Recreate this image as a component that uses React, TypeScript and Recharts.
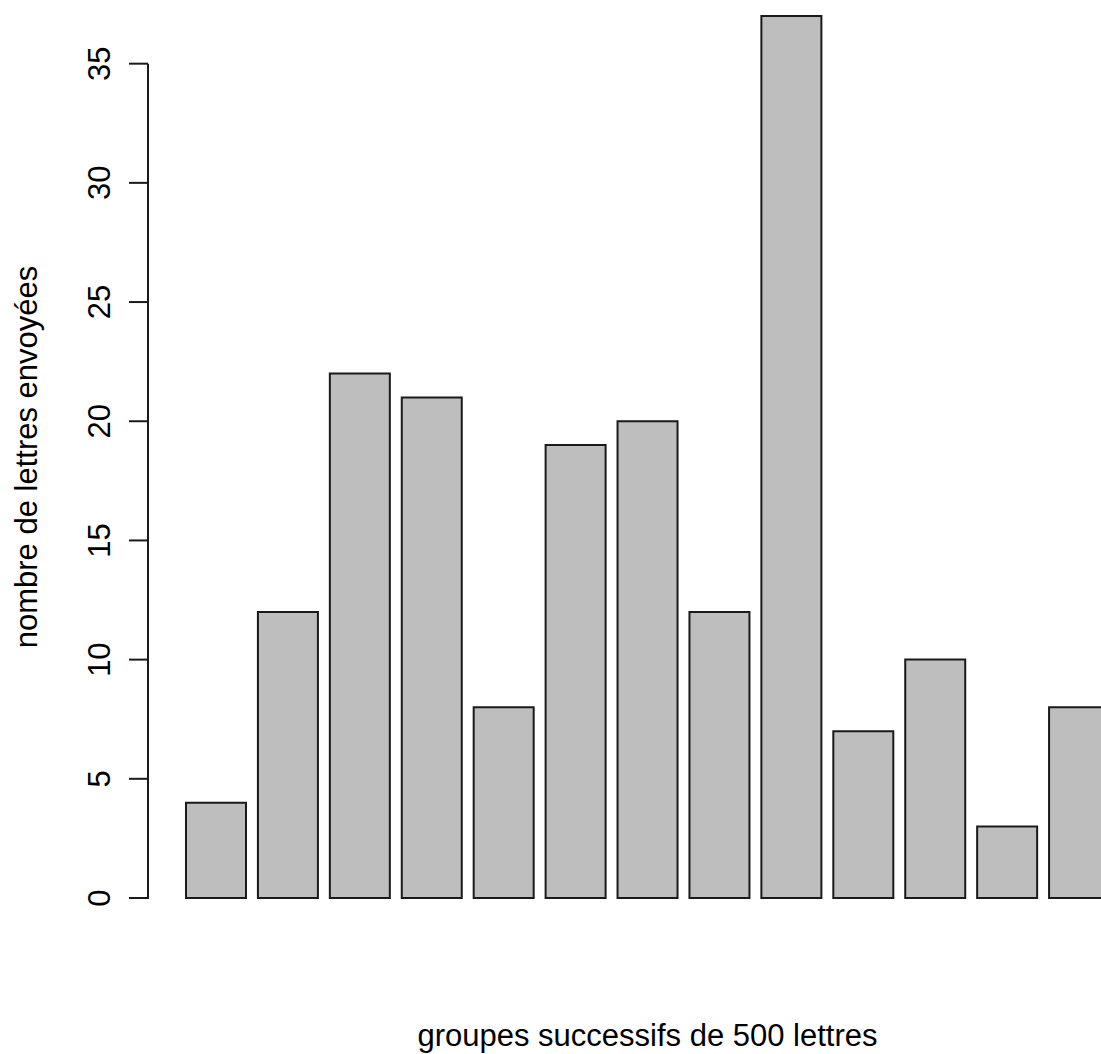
import { Bar, BarChart, XAxis, YAxis } from "recharts"

const groups = ["1", "2", "3", "4", "5", "6", "7", "8", "9", "10", "11", "12", "13"]
const letters = [4, 12, 22, 21, 8, 19, 20, 12, 37, 7, 10, 3, 8]
const yTicks = [0, 5, 10, 15, 20, 25, 30, 35]
const xTitle = "groupes successifs de 500 lettres"
const yTitle = "nombre de lettres envoyées"

const data = groups.map((g, i) => ({ group: g, n: letters[i] }))

// layout, roughly the R device geometry
const W = 1147
const H = 1054
const TOP = 16
const AXIS_W = 148
const BOTTOM = 156
const PLOT_H = H - TOP - BOTTOM
const yMax = Math.max(...letters)
const pxPerUnit = PLOT_H / yMax

const font = "'Liberation Sans', Arial, sans-serif"
const fs = 31
const ink = "#1a1a1a"

function YTick({ x, y, payload }: any) {
  const v = payload.value
  const next = yTicks[yTicks.indexOf(v) + 1]
  const lx = x - 38
  return (
    <g>
      <line x1={x - 19} y1={y} x2={x} y2={y} stroke={ink} strokeWidth={2} />
      {next !== undefined && (
        <line x1={x} y1={y + 1} x2={x} y2={y - (next - v) * pxPerUnit} stroke={ink} strokeWidth={2} />
      )}
      <text
        x={lx}
        y={y}
        transform={`rotate(-90 ${lx} ${y})`}
        textAnchor="middle"
        fontFamily={font}
        fontSize={fs}
        fill="#000"
      >
        {v}
      </text>
    </g>
  )
}

function XTitle({ viewBox }: any) {
  return (
    <text
      x={viewBox.x + viewBox.width / 2}
      y={viewBox.y + viewBox.height - 8}
      textAnchor="middle"
      fontFamily={font}
      fontSize={fs}
      fill="#000"
    >
      {xTitle}
    </text>
  )
}

function YTitle({ viewBox }: any) {
  const x = viewBox.x + 37
  const y = viewBox.y + viewBox.height / 2
  return (
    <text
      x={x}
      y={y}
      transform={`rotate(-90 ${x} ${y})`}
      textAnchor="middle"
      fontFamily={font}
      fontSize={fs}
      fill="#000"
    >
      {yTitle}
    </text>
  )
}

export default function App() {
  return (
    <div
      style={{
        position: "absolute",
        left: 0,
        top: 0,
        width: 1101,
        height: 1054,
        overflow: "hidden",
        background: "#fff",
      }}
    >
      <BarChart
        width={W}
        height={H}
        data={data}
        margin={{ top: TOP, right: 0, bottom: 0, left: 0 }}
        barCategoryGap="8.333%"
      >
        <XAxis
          dataKey="group"
          height={BOTTOM}
          tick={false}
          axisLine={false}
          tickLine={false}
          padding={{ left: 32, right: 32 }}
          label={{ content: <XTitle /> }}
        />
        <YAxis
          width={AXIS_W}
          domain={[0, yMax]}
          ticks={yTicks}
          interval={0}
          tick={<YTick />}
          axisLine={false}
          tickLine={false}
          tickSize={0}
          tickMargin={0}
          label={{ content: <YTitle /> }}
        />
        <Bar dataKey="n" fill="#bebebe" stroke={ink} strokeWidth={2} isAnimationActive={false} />
      </BarChart>
    </div>
  )
}
